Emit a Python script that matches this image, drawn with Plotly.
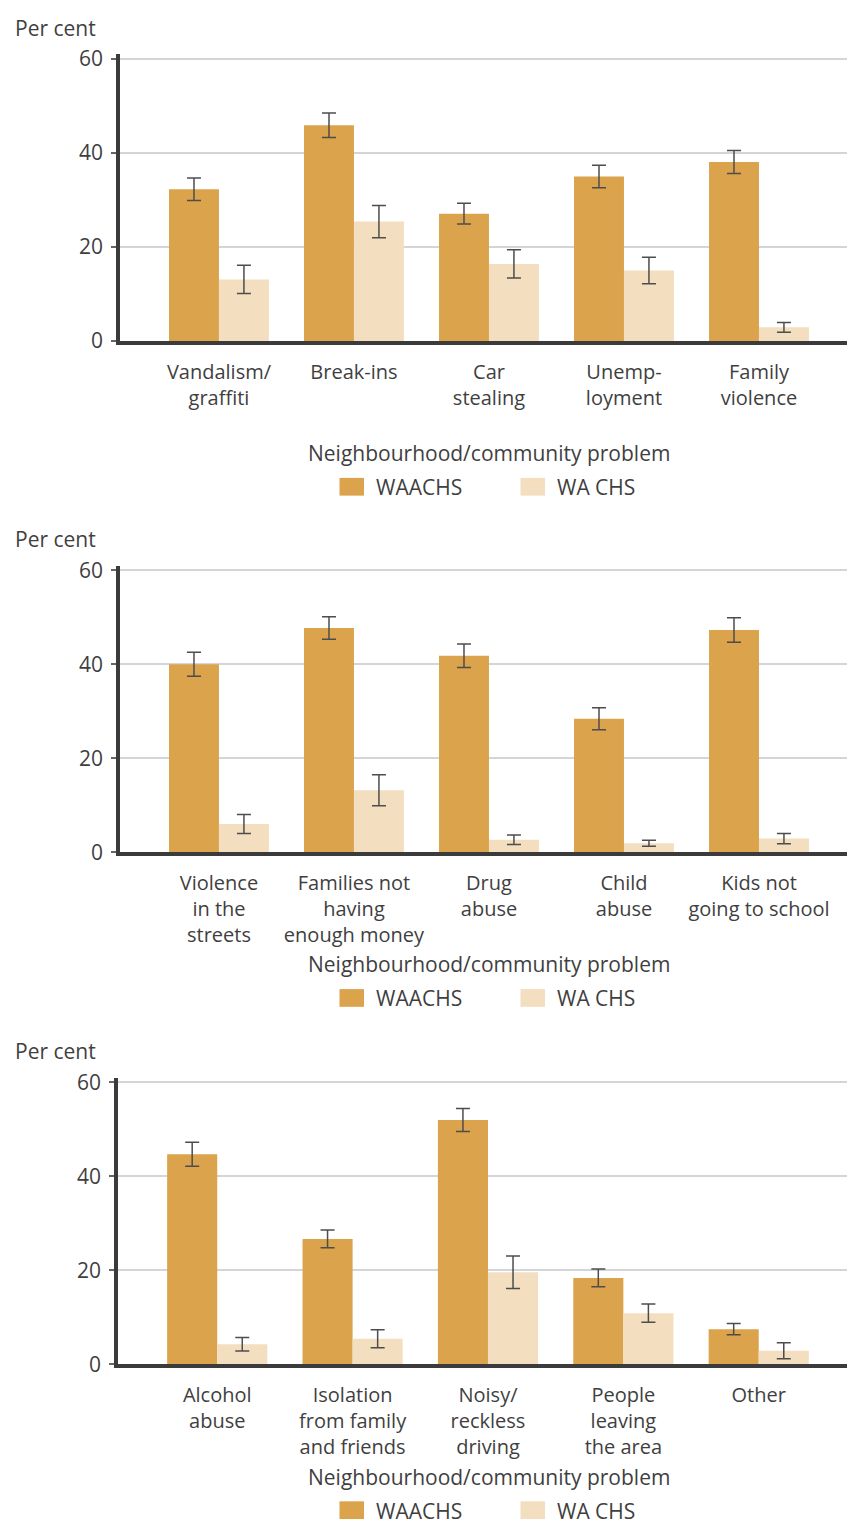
import plotly.graph_objects as go

# ---------------- data ----------------
cats1 = ["Vandalism/<br>graffiti", "Break-ins", "Car<br>stealing", "Unemp-<br>loyment", "Family<br>violence"]
waachs1 = [32.3, 45.9, 27.1, 35.0, 38.1]
waachs1_err = [2.4, 2.6, 2.2, 2.4, 2.45]
wachs1 = [13.1, 25.4, 16.4, 15.0, 2.9]
wachs1_err = [3.0, 3.45, 3.0, 2.8, 1.05]

cats2 = ["Violence<br>in the<br>streets", "Families not<br>having<br>enough money", "Drug<br>abuse", "Child<br>abuse", "Kids not<br>going to school"]
waachs2 = [40.0, 47.7, 41.8, 28.4, 47.3]
waachs2_err = [2.55, 2.4, 2.5, 2.35, 2.6]
wachs2 = [6.0, 13.2, 2.65, 1.9, 2.9]
wachs2_err = [2.0, 3.3, 1.0, 0.65, 1.1]

cats3 = ["Alcohol<br>abuse", "Isolation<br>from family<br>and friends", "Noisy/<br>reckless<br>driving", "People<br>leaving<br>the area", "Other"]
waachs3 = [44.7, 26.7, 52.0, 18.4, 7.5]
waachs3_err = [2.55, 1.9, 2.45, 1.9, 1.2]
wachs3 = [4.3, 5.45, 19.6, 10.9, 2.9]
wachs3_err = [1.45, 1.9, 3.45, 1.95, 1.7]

y_ticks = [0, 20, 40, 60]
series_names = ["WAACHS", "WA CHS"]
x_title = "Neighbourhood/community problem"
y_title = "Per cent"

# ---------------- style ----------------
W, H = 847, 1535
C_DARK = "#dba34b"
C_LIGHT = "#f3dec0"
TEXT = "#3f3f3f"
AXIS = "#3b3b3b"
GRID = "#d3d5d9"
ERR = "#4d4d4d"
FONT = "Open Sans"


def px_x(x):
    return x / W


def px_y(y):
    return 1 - y / H


panels = [
    (cats1, waachs1, waachs1_err, wachs1, wachs1_err),
    (cats2, waachs2, waachs2_err, wachs2, wachs2_err),
    (cats3, waachs3, waachs3_err, wachs3, wachs3_err),
]
zero_lines = [336, 855, 1375]  # pixel row of y=0 per panel
left_edges = [120, 120, 118]

fig = go.Figure()
shapes = []
annotations = []

for i, (cats, a, ae, b, be) in enumerate(panels):
    n = i + 1
    xa = "x" if n == 1 else f"x{n}"
    ya = "y" if n == 1 else f"y{n}"
    xs = list(range(len(cats)))
    fig.add_trace(go.Bar(
        x=xs, y=a, name=series_names[0], xaxis=xa, yaxis=ya,
        marker=dict(color=C_DARK, line=dict(width=0)),
        error_y=dict(type="data", array=ae, visible=True, color=ERR, thickness=1.5, width=7),
        showlegend=False, offsetgroup="a",
    ))
    fig.add_trace(go.Bar(
        x=xs, y=b, name=series_names[1], xaxis=xa, yaxis=ya,
        marker=dict(color=C_LIGHT, line=dict(width=0)),
        error_y=dict(type="data", array=be, visible=True, color=ERR, thickness=1.5, width=7),
        showlegend=False, offsetgroup="b",
    ))

    z = zero_lines[i]
    top = z - 291  # axis top (a bit above 60)
    xkey = "xaxis" if n == 1 else f"xaxis{n}"
    ykey = "yaxis" if n == 1 else f"yaxis{n}"
    fig.update_layout(**{
        xkey: dict(
            domain=[px_x(left_edges[i]), 1.0],
            anchor=ya,
            range=[-0.733, 4.652],
            tickvals=xs, ticktext=cats,
            showline=True, linecolor=AXIS, linewidth=3.5,
            showgrid=False, zeroline=False,
            ticks="outside", ticklen=10, tickcolor="rgba(0,0,0,0)",
            tickfont=dict(family=FONT, size=20, color=TEXT),
            fixedrange=True,
        ),
        ykey: dict(
            domain=[px_y(z), px_y(top)],
            anchor=xa,
            range=[0, 61],
            tickvals=y_ticks,
            showline=True, linecolor=AXIS, linewidth=3.5,
            showgrid=True, gridcolor=GRID, gridwidth=1.8,
            zeroline=False,
            ticks="outside", ticklen=5, tickwidth=1.5, tickcolor="#666666",
            ticklabelstandoff=4,
            tickfont=dict(family=FONT, size=21, color=TEXT),
            fixedrange=True,
        ),
    })

    # "Per cent" label
    annotations.append(dict(
        text=y_title, xref="paper", yref="paper",
        x=px_x(13), y=px_y(z - 318), xanchor="left", yanchor="middle",
        showarrow=False, font=dict(family=FONT, size=21, color=TEXT),
    ))
    # x axis title
    annotations.append(dict(
        text=x_title, xref="paper", yref="paper",
        x=px_x(489), y=px_y(z + 114), xanchor="center", yanchor="middle",
        showarrow=False, font=dict(family=FONT, size=21, color=TEXT),
    ))
    # legend swatches and labels
    for k, (sx, tx, col) in enumerate([(339.5, 374, C_DARK), (520.5, 555, C_LIGHT)]):
        shapes.append(dict(
            type="rect", xref="paper", yref="paper",
            x0=px_x(sx), x1=px_x(sx + 24.5),
            y0=px_y(z + 139), y1=px_y(z + 157),
            fillcolor=col, line=dict(width=0),
        ))
        annotations.append(dict(
            text=series_names[k], xref="paper", yref="paper",
            x=px_x(tx), y=px_y(z + 148.5), xanchor="left", yanchor="middle",
            showarrow=False, font=dict(family=FONT, size=21, color=TEXT),
        ))

fig.update_layout(
    width=W, height=H,
    margin=dict(l=0, r=0, t=0, b=0),
    paper_bgcolor="white", plot_bgcolor="white",
    barmode="group", bargap=0.26, bargroupgap=0.0,
    showlegend=False,
    shapes=shapes, annotations=annotations,
    font=dict(family=FONT, size=21, color=TEXT),
)

fig.write_html(
    "out.html",
    config={"displayModeBar": False},
    post_script=(
        "document.documentElement.style.margin='0';"
        "document.body.style.margin='0';document.body.style.padding='0';"
        "document.body.style.overflow='hidden';"
        "var d=document.getElementById('{plot_id}');"
        "d.style.position='absolute';d.style.top='0px';d.style.left='0px';"
    ),
)
